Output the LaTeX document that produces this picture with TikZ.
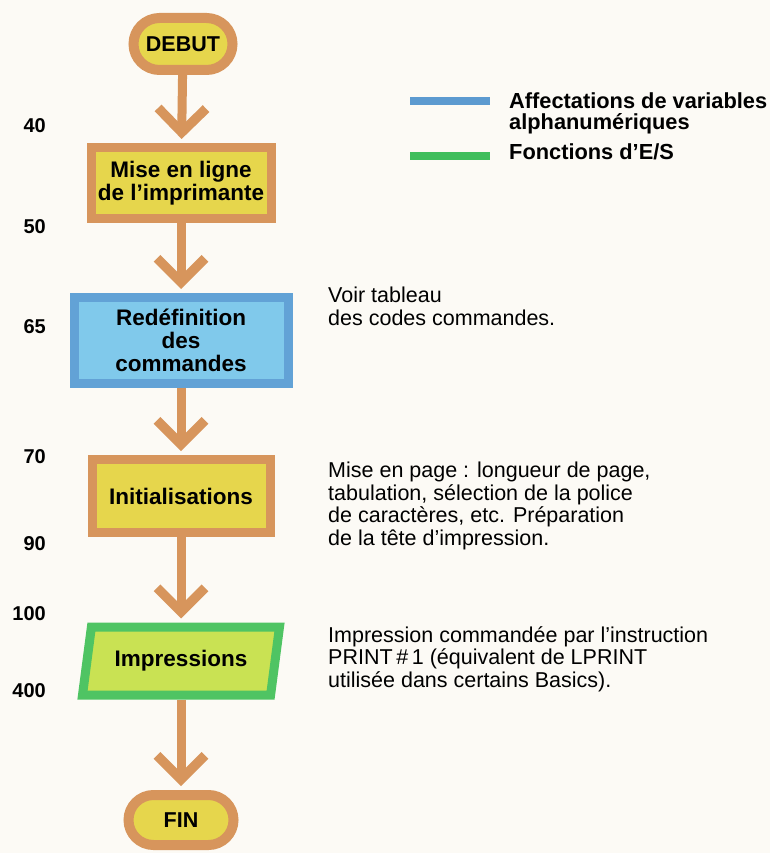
\documentclass[tikz,border=0pt]{standalone}
\usepackage{fontspec}
\setmainfont{Liberation Sans}
\usetikzlibrary{positioning,shapes.misc,shapes.geometric,arrows.meta}
\definecolor{paper}{HTML}{FCFAF5}
\definecolor{tan}{HTML}{D7955C}
\definecolor{boxfill}{HTML}{E6D64C}
\definecolor{bluedraw}{HTML}{62A2D6}
\definecolor{bluefill}{HTML}{80C9EB}
\definecolor{greendraw}{HTML}{4FC463}
\definecolor{greenfill}{HTML}{C9E253}
\definecolor{legblue}{HTML}{5C9AD0}
\definecolor{leggreen}{HTML}{3FBE5C}
\tikzset{
  % --- flowchart boxes ---
  terminal/.style={rounded rectangle, draw=tan, line width=10pt, fill=boxfill,
                   inner sep=0pt, font=\fontsize{21.5}{22}\selectfont\bfseries},
  process/.style={rectangle, draw=tan, line width=9pt, fill=boxfill,
                  align=center, inner sep=0pt,
                  font=\fontsize{22.5}{23}\selectfont\bfseries},
  assign/.style={process, draw=bluedraw, fill=bluefill},
  inout/.style={trapezium, trapezium left angle=67, trapezium right angle=113,
                trapezium stretches body, draw=greendraw, fill=greenfill,
                line width=9pt, inner sep=0pt,
                font=\fontsize{22.5}{22}\selectfont\bfseries},
  % --- connectors ---
  flow/.style={draw=tan, line width=9pt, shorten >=4pt,
               -{Straight Barb[length=24pt,width=48pt,line width=9.5pt]}},
  % --- margin texts ---
  lineno/.style={anchor=base east, inner sep=0pt,
                 font=\fontsize{20}{22}\selectfont\bfseries},
  remark/.style={anchor=base west, align=left, inner sep=0pt,
                 font=\fontsize{21.5}{22.5}\selectfont},
  legtext/.style={anchor=base west, align=left, inner sep=0pt,
                  font=\fontsize{21.8}{21.5}\selectfont\bfseries},
  legbar/.style={rectangle, inner sep=0pt, minimum width=80pt,
                 minimum height=8pt},
}

\begin{document}
\begin{tikzpicture}[x=1pt,y=-1pt]
  \useasboundingbox[fill=paper] (0,0) rectangle (770,853);

  % chart, top to bottom
  \node[terminal, minimum width=99pt, minimum height=52pt] (debut) at (183,44) {DEBUT};
  \node[process, minimum width=180pt, minimum height=71pt] (ligne) at (181,183)
       {Mise en ligne\\de l'imprimante};
  \node[assign, minimum width=214pt, minimum height=86pt] (redef) at (181,340.5)
       {Redéfinition\\des\\commandes};
  \node[process, minimum width=178pt, minimum height=73pt] (init) at (181,496)
       {Initialisations};
  \node[inout, minimum width=197pt, minimum height=68pt] (impr) at (181,661)
       {Impressions};
  \node[terminal, minimum width=105pt, minimum height=50pt] (fin) at (181,820) {FIN};

  \draw[flow] (debut) -- (ligne);
  \draw[flow] (ligne) -- (redef);
  \draw[flow] (redef) -- (init);
  \draw[flow] (init)  -- (impr);
  \draw[flow] (impr)  -- (fin);

  % line numbers
  \node[lineno] (n40)  at (46,133) {40};
  \node[lineno] (n50)  at (46,233) {50};
  \node[lineno] (n65)  at (46,333) {65};
  \node[lineno] (n70)  at (46,463) {70};
  \node[lineno] (n90)  at (46,550) {90};
  \node[lineno] (n100) at (46,620) {100};
  \node[lineno] (n400) at (46,697) {400};

  % legend (base anchor sits on the last line)
  \node[legbar, fill=legblue]  (keyblue)  at (450,101) {};
  \node[legbar, fill=leggreen] (keygreen) at (450,156) {};
  \node[legtext] (keyvar) at (509,130) {Affectations de variables\\alphanumériques};
  \node[legtext] (keyio)  at (509,160) {Fonctions d'E/S};

  % remarks beside the chart
  \node[remark] (rmcodes) at (328,325) {Voir tableau\\des codes commandes.};
  \node[remark] (rmpage)  at (328,545)
       {Mise en page : longueur de page,\\tabulation, sélection de la police\\de caractères, etc. Préparation\\de la tête d'impression.};
  \node[remark] (rmprint) at (328,687)
       {Impression commandée par l'instruction\\PRINT\,\#\,1 (équivalent de LPRINT\\utilisée dans certains Basics).};
\end{tikzpicture}
\end{document}
